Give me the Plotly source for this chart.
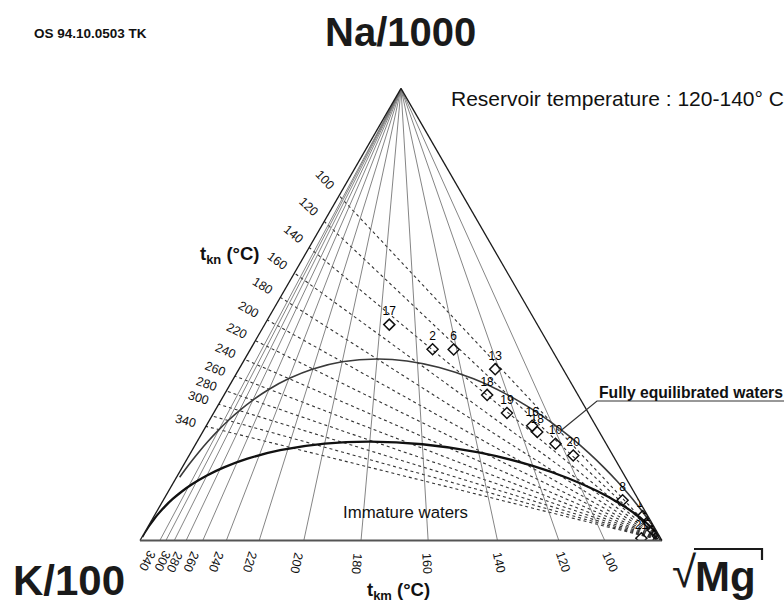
import math
import plotly.graph_objects as go

# ---------------- data ----------------
# sample points: relative shares (%) of Na/1000, K/100 and sqrt(Mg)
sample_ids = ["17", "2", "6", "13", "18", "19", "16", "18", "10", "20",
              "8", "11", "15", "21", "22", "23", "24", "25"]
sample_na = [47.8, 42.3, 42.3, 37.9, 32.2, 28.2, 25.4, 24.0, 21.4, 18.8,
             8.9, 5.4, 3.8, 0.5, 2.3, 1.0, 1.6, 0.1]
sample_k = [28.4, 22.8, 18.8, 13.0, 17.4, 15.6, 12.2, 11.9, 9.7, 7.6,
            3.1, 1.0, 0.6, 3.7, 0.6, 0.3, 0.1, 0.6]
sample_mg = [23.9, 34.9, 39.0, 49.1, 50.4, 56.2, 62.5, 64.1, 68.9, 73.6,
             88.0, 93.7, 95.6, 95.7, 97.1, 98.7, 98.3, 99.3]

# isotherms (deg C) and their tick labels
kn_temps = [100, 120, 140, 160, 180, 200, 220, 240, 260, 280, 300, 320, 340]
kn_labels = [100, 120, 140, 160, 180, 200, 220, 240, 260, 280, 300, 340]
km_temps = [100, 120, 140, 160, 180, 200, 220, 240, 260, 280, 300, 320, 340]
km_labels = [100, 120, 140, 160, 180, 200, 220, 240, 260, 280, 300, 340]

# temperatures along the two reference curves
full_eq_temps = [0, 10, 20, 30, 40, 50, 60, 70, 80, 90, 100, 110, 120, 135,
                 150, 165, 180, 200, 220, 240, 260, 280, 300, 320, 340, 370,
                 400, 440, 500]
immature_temps = [0, 15, 30, 45, 60, 75, 90, 105, 120, 140, 160, 180, 200,
                  225, 250, 275, 300, 330, 360, 400, 450, 520, 600, 750,
                  1000, 1500, 3000]
immature_shift = 0.38  # log(K/Na) offset of the immature-water line

# ---------------- geothermometers ----------------
def log_k_na(t):      # Na-K (Arnorsson 1983)
    return 0.993 - 933.0 / (t + 273.15)


def log_k2_mg(t):     # K-Mg (Giggenbach 1988)
    return 14.0 - 4410.0 / (t + 273.15)


def comp(lkna, lk2mg):
    k = 100.0
    na = k / 10 ** lkna
    mg = k * k / 10 ** lk2mg
    return na / 1000.0, k / 100.0, math.sqrt(mg)


# ---------------- page geometry ----------------
W, H = 784, 609
TRI_LEFT, TRI_RIGHT, TRI_BASE = 140.0, 662.0, 540.5
TRI_H = (TRI_RIGHT - TRI_LEFT) * math.sqrt(3) / 2
TRI_TOP = TRI_BASE - TRI_H
APEX_X = (TRI_LEFT + TRI_RIGHT) / 2
FONT = "Liberation Sans, Arial, sans-serif"


def to_px(a, b, c):
    s = a + b + c
    a, b, c = a / s, b / s, c / s
    return (a * APEX_X + b * TRI_LEFT + c * TRI_RIGHT,
            a * TRI_TOP + (b + c) * TRI_BASE)


def px2paper(x, y):
    return x / W, 1 - y / H


fig = go.Figure()

# Na-K isotherms: from sqrt(Mg) corner to Na-K side
for t in kn_temps:
    na, k, _ = comp(log_k_na(t), 0)
    fig.add_trace(go.Scatterternary(
        a=[0, na], b=[0, k], c=[1, 0], mode="lines",
        line=dict(color="#333", width=1.1, dash="dot"),
        hoverinfo="skip", showlegend=False))

# K-Mg isotherms: from Na corner to K-Mg side
for t in km_temps:
    _, k, smg = comp(0, log_k2_mg(t))
    fig.add_trace(go.Scatterternary(
        a=[1, 0], b=[0, k], c=[0, smg], mode="lines",
        line=dict(color="#666", width=0.8),
        hoverinfo="skip", showlegend=False))

# full equilibrium line
fa, fb, fc = [], [], []
for t in full_eq_temps:
    a, b, c = comp(log_k_na(t), log_k2_mg(t))
    fa.append(a); fb.append(b); fc.append(c)
fig.add_trace(go.Scatterternary(
    a=fa, b=fb, c=fc, mode="lines",
    line=dict(color="#3a3a3a", width=1.6, shape="spline"),
    hoverinfo="skip", showlegend=False))

# immature waters line
ia, ib, ic = [], [], []
for t in immature_temps:
    a, b, c = comp(log_k_na(t) + immature_shift, log_k2_mg(t))
    ia.append(a); ib.append(b); ic.append(c)
fig.add_trace(go.Scatterternary(
    a=ia, b=ib, c=ic, mode="lines",
    line=dict(color="#111", width=2.3, shape="spline"),
    hoverinfo="skip", showlegend=False))

# samples
fig.add_trace(go.Scatterternary(
    a=sample_na, b=sample_k, c=sample_mg, mode="markers+text",
    text=sample_ids, textposition="top center",
    textfont=dict(family=FONT, size=12, color="#000000"),
    marker=dict(symbol="diamond-open", size=8.5, color="#111",
                line=dict(width=1.5)),
    hoverinfo="skip", showlegend=False))

annotations = []


def add_text(x, y, text, size, angle=0, bold=False, color="#111",
             xanchor="center", family=FONT):
    px_, py_ = px2paper(x, y)
    annotations.append(dict(
        x=px_, y=py_, xref="paper", yref="paper", showarrow=False,
        text=("<b>%s</b>" % text) if bold else text, textangle=angle,
        xanchor=xanchor, yanchor="middle",
        font=dict(family=family, size=size, color=color)))


OFF = 21.0
# left-side (Na-K) labels
for t in kn_labels:
    na, k, _ = comp(log_k_na(t), 0)
    ex, ey = to_px(na, k, 0)
    dx, dy = ex - TRI_RIGHT, ey - TRI_BASE
    n = math.hypot(dx, dy)
    ux, uy = dx / n, dy / n
    ang = math.degrees(math.atan2(-uy, -ux))
    add_text(ex + OFF * ux, ey + OFF * uy, str(t), 12.5, angle=ang)

# bottom (K-Mg) labels
for t in km_labels:
    _, k, smg = comp(0, log_k2_mg(t))
    ex, ey = to_px(0, k, smg)
    dx, dy = ex - APEX_X, ey - TRI_TOP
    n = math.hypot(dx, dy)
    ux, uy = dx / n, dy / n
    ang = math.degrees(math.atan2(uy, ux))
    add_text(ex + OFF * ux - 3, ey + OFF * uy + 2, str(t), 12.5, angle=ang)

# titles and notes
add_text(90, 33, "OS 94.10.0503 TK", 13.5, bold=True)
add_text(400, 32, "Na/1000", 40, bold=True, color="#1a1a1a")
add_text(69, 580, "K/100", 42, bold=True, color="#1a1a1a")
add_text(684, 571, "\u221a", 44, color="#1a1a1a")
add_text(725, 576, "Mg", 42, bold=True, color="#1a1a1a")
add_text(449, 98, "Reservoir temperature : 120-140\u00b0 C", 21,
         xanchor="left")
add_text(597, 392, "Fully equilibrated waters", 15.7, bold=True,
         xanchor="left")
add_text(405, 512, "Immature waters", 16.8)
add_text(230, 255, "t<sub>kn</sub> (\u00b0C)", 18.5, bold=True)
add_text(398, 591, "t<sub>km</sub> (\u00b0C)", 18.5, bold=True)

# leader line from the equilibrium curve to the label
lx0, ly0 = to_px(*comp(log_k_na(95), log_k2_mg(95)))
p0 = px2paper(lx0, ly0)
p1 = px2paper(597, 401)
p2 = px2paper(784, 401)
shapes = [
    dict(type="path", xref="paper", yref="paper",
         path="M %f %f L %f %f L %f %f" % (p0[0], p0[1], p1[0], p1[1],
                                           p2[0], p2[1]),
         line=dict(color="#333", width=1.2)),
]
# vinculum of the square-root sign
v0 = px2paper(694, 549)
v1 = px2paper(762, 549)
v2 = px2paper(762, 560)
shapes.append(dict(type="path", xref="paper", yref="paper",
                   path="M %f %f L %f %f L %f %f" % (v0[0], v0[1], v1[0],
                                                     v1[1], v2[0], v2[1]),
                   line=dict(color="#1a1a1a", width=2.2)))

axis_style = dict(showgrid=False, showticklabels=False, ticks="",
                  showline=True, linecolor="#1a1a1a", linewidth=1.3,
                  title=dict(text=""), min=0)

fig.update_layout(
    width=W, height=H,
    margin=dict(l=0, r=0, t=0, b=0),
    paper_bgcolor="white",
    hovermode=False,
    ternary=dict(
        domain=dict(x=[TRI_LEFT / W, TRI_RIGHT / W],
                    y=[1 - TRI_BASE / H, 1 - TRI_TOP / H]),
        sum=1, bgcolor="white",
        aaxis=axis_style, baxis=dict(axis_style, linecolor="#555",
                                     linewidth=1.8),
        caxis=axis_style,
    ),
    annotations=annotations,
    shapes=shapes,
)

fig.write_html("out.html")
